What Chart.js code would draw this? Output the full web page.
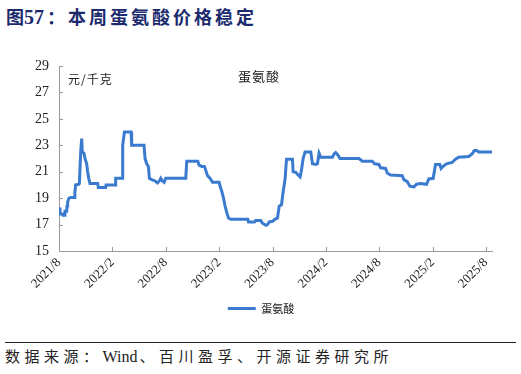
<!DOCTYPE html>
<html>
<head>
<meta charset="utf-8">
<script src="https://cdn.jsdelivr.net/npm/chart.js@4"></script>
<style>
  html, body { margin: 0; padding: 0; background: #fff; }
  body { width: 521px; height: 374px; position: relative; overflow: hidden; }
  #title { position: absolute; left: 6px; top: 3px; font-family: "Noto Sans CJK SC", sans-serif; font-weight: bold; font-size: 18px; color: #1c2b6e; white-space: nowrap; }
  #title .sp { letter-spacing: 3px; }
  #title .colon { margin-left: 3px; }
  #title .num { font-family: "Liberation Serif", serif; font-size: 20px; letter-spacing: 0; }
  #wrap { position: absolute; left: 0; top: 0; width: 521px; height: 330px; }
  .note { position: absolute; font-family: "Noto Sans CJK SC", sans-serif; color: #222; white-space: nowrap; }
  #rule { position: absolute; left: 5px; width: 511px; top: 342px; height: 0; border-top: 1.3px solid #222; }
  #source { position: absolute; left: 5px; top: 345px; font-family: "Noto Sans CJK SC", sans-serif; font-size: 15px; color: #222; white-space: nowrap; }
  #source .sp { letter-spacing: 4.5px; }
  #source .en { font-family: "Liberation Serif", serif; font-size: 16px; letter-spacing: 0; margin-right: 2px; }
</style>
</head>
<body>
<div id="title">图<span class="num">57</span><span class="sp colon">：本周蛋氨酸价格稳定</span></div>
<div id="wrap"><canvas id="c" width="521" height="330"></canvas></div>
<div class="note" style="left:68px; top:70px; font-size:12px; letter-spacing:1px;">元/千克</div>
<div class="note" style="left:238px; top:66px; font-size:13px; letter-spacing:1px;">蛋氨酸</div>
<div id="rule"></div>
<div id="source"><span class="sp">数据来源：</span><span class="en">Wind</span><span class="sp">、百川盈孚、开源证券研究所</span></div>
<script>
// months since 2021/8
const months = [0,0.11,0.37,0.45,0.6,0.67,0.86,0.9,0.97,1.12,1.35,1.72,1.78,1.87,2.2,2.29,2.44,2.55,2.62,2.81,2.92,3.11,3.22,3.34,3.49,4.35,4.42,5.25,5.29,6.3,6.37,7.12,7.16,7.35,8.1,8.17,9.56,9.67,9.86,10.05,10.16,10.42,10.8,11.06,11.29,11.44,11.62,11.81,12.0,14.25,14.36,15.6,15.75,16.05,16.35,16.5,16.69,16.99,17.25,18.0,18.11,18.3,18.49,18.67,18.86,19.05,19.31,21.22,21.3,21.97,22.12,22.68,22.87,23.25,23.44,23.63,24.0,24.26,24.56,24.75,25.01,25.2,25.31,25.42,25.57,26.24,26.32,26.62,26.8,27.1,27.25,27.44,27.66,28.3,28.49,28.86,29.05,29.23,29.42,30.73,30.92,31.1,31.36,31.59,33.72,34.09,35.21,35.48,35.96,36.15,36.71,36.9,37.27,38.58,38.77,39.14,39.44,39.89,40.19,40.64,41.31,41.57,42.06,42.32,42.8,42.95,43.25,43.55,44.19,44.56,44.93,46.06,46.43,46.69,46.92,47.18,48.67];
const values = [18.3,17.8,17.8,17.7,17.7,18.0,18.0,18.4,18.7,19.0,19.05,19.05,19.4,20.0,20.05,20.1,22.5,23.5,22.5,22.4,22.0,21.6,21.0,20.5,20.1,20.1,19.8,19.8,20.0,20.0,20.5,20.5,23.0,24.0,24.0,23.0,23.0,22.0,21.6,21.4,20.5,20.4,20.3,20.15,20.3,20.5,20.3,20.2,20.5,20.5,21.8,21.8,21.5,21.4,21.4,21.1,20.7,20.5,20.2,20.2,19.9,19.5,19.0,18.4,17.9,17.5,17.4,17.4,17.2,17.2,17.3,17.3,17.1,16.95,17.0,17.2,17.25,17.4,17.5,18.4,18.5,19.5,20.0,20.5,21.95,21.95,21.0,20.95,20.8,20.6,21.1,22.0,22.5,22.5,21.6,21.55,21.6,22.4,22.1,22.1,22.35,22.45,22.25,22.0,22.0,21.8,21.8,21.6,21.55,21.3,21.25,20.9,20.75,20.7,20.4,20.25,19.9,19.85,20.05,20.1,20.05,20.45,20.5,21.55,21.55,21.25,21.45,21.6,21.7,21.95,22.1,22.15,22.35,22.6,22.6,22.5,22.5];
const tickMonths = [0,6,12,18,24,30,36,42,48];
const tickLabels = ['2021/8','2022/2','2022/8','2023/2','2023/8','2024/2','2024/8','2025/2','2025/8'];
const yTicks = [15,17,19,21,23,25,27,29];
const seriesName = '蛋氨酸';

const axisColor = '#999';
const inwardTicks = {
  id: 'inwardTicks',
  afterLayout(chart) {
    const l = chart.legend;
    if (l) { l.left += 15; l.right += 15; }
  },
  afterDraw(chart) {
    const ctx = chart.ctx, ca = chart.chartArea;
    const xs = chart.scales.x, ys = chart.scales.y;
    ctx.save();
    ctx.strokeStyle = axisColor; ctx.lineWidth = 1;
    ctx.beginPath();
    yTicks.forEach(v => { const y = Math.round(ys.getPixelForValue(v)) + 0.5; ctx.moveTo(ca.left, y); ctx.lineTo(ca.left + 4, y); });
    tickMonths.forEach(v => { const x = Math.round(xs.getPixelForValue(v)) + 0.5; ctx.moveTo(x, ca.bottom); ctx.lineTo(x, ca.bottom - 4); });
    ctx.stroke();
    ctx.restore();
  }
};

new Chart(document.getElementById('c'), {
  type: 'line',
  data: {
    datasets: [{
      label: seriesName,
      data: months.map((m, i) => ({ x: m, y: values[i] })),
      borderColor: '#3a7bd0',
      backgroundColor: '#3a7bd0',
      borderWidth: 3,
      pointRadius: 0,
      pointStyle: 'line',
      tension: 0,
      fill: false
    }]
  },
  options: {
    responsive: false,
    animation: false,
    devicePixelRatio: 1,
    layout: { padding: { top: 66, right: 29, left: 0, bottom: 6 } },
    plugins: {
      tooltip: { enabled: false },
      legend: {
        position: 'bottom',
        labels: {
          usePointStyle: true, pointStyleWidth: 28, boxHeight: 11, padding: 7,
          color: '#222',
          font: { family: '"Noto Sans CJK SC", sans-serif', size: 11 }
        }
      }
    },
    scales: {
      x: {
        type: 'linear',
        min: 0, max: 48.67,
        afterBuildTicks(scale) { scale.ticks = tickMonths.map(v => ({ value: v })); },
        afterFit(scale) { scale.height = 45; },
        grid: { display: false, drawTicks: false },
        border: { display: true, color: axisColor, width: 1 },
        ticks: {
          autoSkip: false, maxRotation: 45, minRotation: 45, padding: 4,
          color: '#222',
          font: { family: '"Liberation Serif", serif', size: 13 },
          callback: (v) => tickLabels[tickMonths.indexOf(v)]
        }
      },
      y: {
        min: 15, max: 29,
        afterBuildTicks(scale) { scale.ticks = yTicks.map(v => ({ value: v })); },
        afterFit(scale) { scale.width = 59; },
        grid: { display: false, drawTicks: false },
        border: { display: true, color: axisColor, width: 1 },
        ticks: {
          padding: 10, color: '#222',
          font: { family: '"Liberation Serif", serif', size: 14 }
        }
      }
    }
  },
  plugins: [inwardTicks]
});
</script>
</body>
</html>
